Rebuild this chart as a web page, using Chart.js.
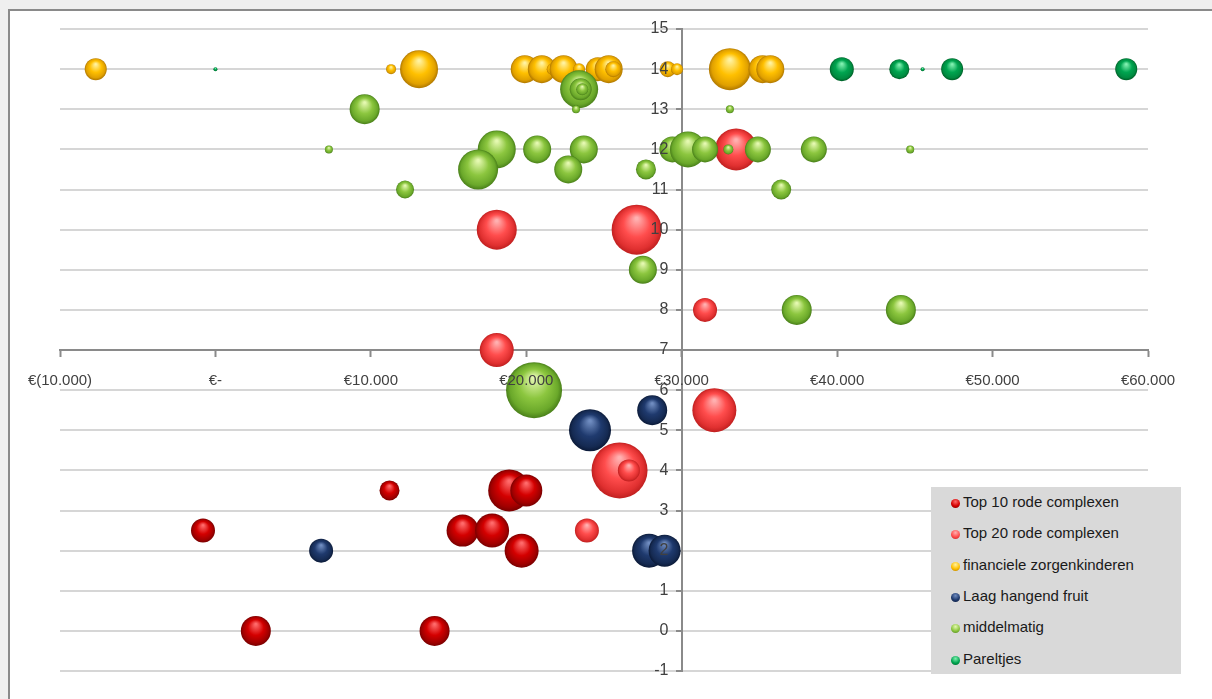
<!DOCTYPE html>
<html>
<head>
<meta charset="utf-8">
<script src="https://cdn.jsdelivr.net/npm/chart.js@4/dist/chart.umd.min.js"></script>
<style>
  html, body { margin: 0; padding: 0; background: #efefef; overflow: hidden; }
  #wrap  { position: relative; width: 1212px; height: 699px; }
  #frame { position: absolute; left: 8px; top: 9px; width: 1300px; height: 800px;
           background: #fff; border-left: 2px solid #8a8a8a; border-top: 2px solid #8a8a8a; }
  #chart { position: absolute; left: 0; top: 0; }
  #legend { position: absolute; left: 931px; top: 487px; width: 250px; height: 187px;
            background: #d9d9d9; font: 15px "Liberation Sans", Arial, sans-serif; color: #1a1a1a; }
  #legend .item { position: absolute; left: 20px; height: 20px; line-height: 20px; white-space: nowrap; }
  #legend .dot  { display: inline-block; width: 9px; height: 9px; border-radius: 50%;
                  vertical-align: -1px; margin-right: 3px; }
</style>
</head>
<body>
<div id="wrap">
  <div id="frame"></div>
  <canvas id="chart" width="1212" height="699"></canvas>
  <div id="legend"></div>
</div>
<script>
// [bedrag in €, categorie-score, bubbelstraal]
const top10 = [
  [-800, 2.5, 12], [11200, 3.5, 10], [15900, 2.5, 16], [17800, 2.5, 17],
  [18900, 3.5, 21], [20000, 3.5, 16], [19700, 2, 17], [2600, 0, 15], [14100, 0, 15],
];
const top20 = [
  [33500, 12, 21], [18100, 10, 20], [27100, 10, 25], [31500, 8, 12], [18100, 7, 17],
  [32100, 5.5, 22], [26000, 4, 28], [26600, 4, 11], [23900, 2.5, 12],
];
const zorgkinderen = [
  [-7700, 14, 11], [11300, 14, 5], [13100, 14, 19], [19900, 14, 14], [21000, 14, 14],
  [21700, 14, 6], [22400, 14, 14], [23400, 14, 6], [24600, 14, 12], [25300, 14, 14],
  [25600, 14, 8], [29100, 14, 8], [29700, 14, 6], [33100, 14, 21], [35200, 14, 14],
  [35700, 14, 14],
];
const laagFruit = [
  [6800, 2, 12], [24100, 5, 21], [28100, 5.5, 15], [27900, 2, 17], [28900, 2, 16],
];
const middelmatig = [
  [9600, 13, 15], [7300, 12, 4], [12200, 11, 9], [23400, 13.5, 19], [23500, 13.5, 11],
  [23600, 13.5, 6], [23200, 13, 4], [18100, 12, 19], [20700, 12, 14], [23700, 12, 14],
  [29400, 12, 13], [30400, 12, 18], [31500, 12, 13], [33000, 12, 5], [34900, 12, 13],
  [38500, 12, 13], [44700, 12, 4], [16900, 11.5, 20], [22700, 11.5, 14], [27700, 11.5, 10],
  [36400, 11, 10], [27500, 9, 14], [37400, 8, 15], [44100, 8, 15], [20500, 6, 28],
  [33100, 13, 4],
];
const pareltjes = [
  [0, 14, 2], [40300, 14, 12], [44000, 14, 10], [45500, 14, 2], [47400, 14, 11], [58600, 14, 11],
];

const seriesNames = [
  "Top 10 rode complexen", "Top 20 rode complexen", "financiele zorgenkinderen",
  "Laag hangend fruit", "middelmatig", "Pareltjes",
];
// highlight, base, shade, edge
const seriesColors = [
  ["#ff6a6a", "#d40000", "#a00000", "#7a0000"],
  ["#ffb0b0", "#ff4d4d", "#e03030", "#c02020"],
  ["#fff2a0", "#ffc000", "#e0a000", "#b07800"],
  ["#6f8cc0", "#1f3a6e", "#152a52", "#0b1a38"],
  ["#e4f8b0", "#8cc63f", "#6aa82a", "#4a801a"],
  ["#80f0b0", "#00a550", "#008a40", "#006028"],
];
const xMin = -10000, xMax = 60000, xStep = 10000;
const yMin = -1, yMax = 15, yStep = 1;
const xCross = 7, yCross = 30000;

function euro(v) {
  if (v === 0) return "€-";
  const s = Math.abs(v).toString().replace(/\B(?=(\d{3})+(?!\d))/g, ".");
  return v < 0 ? `€(${s})` : `€${s}`;
}

function sphere(cols) {
  return ctx => {
    const chart = ctx.chart, raw = ctx.raw;
    if (!chart.chartArea || !raw) return cols[1];
    const x = chart.scales.x.getPixelForValue(raw.x);
    const y = chart.scales.y.getPixelForValue(raw.y);
    const r = Math.max(raw.r, 1);
    const g = chart.ctx.createRadialGradient(x, y - r * 0.45, r * 0.05, x, y, r);
    g.addColorStop(0, cols[0]);
    g.addColorStop(0.5, cols[1]);
    g.addColorStop(0.85, cols[2]);
    g.addColorStop(1, cols[3]);
    return g;
  };
}

const allSeries = [top10, top20, zorgkinderen, laagFruit, middelmatig, pareltjes];

const datasets = allSeries.map((pts, i) => ({
  label: seriesNames[i],
  data: pts.map(p => ({ x: p[0], y: p[1], r: p[2] })),
  backgroundColor: sphere(seriesColors[i]),
  borderWidth: 0,
  order: allSeries.length - i,   // latere reeksen bovenop, zoals in Excel
}));

const tickFont = { family: "'Liberation Sans', Arial, sans-serif", size: 15 };

new Chart(document.getElementById("chart"), {
  type: "bubble",
  data: { datasets },
  options: {
    responsive: false,
    animation: false,
    events: [],
    layout: { padding: { left: 60, top: 29, right: 64, bottom: 16 } },
    plugins: { legend: { display: false }, tooltip: { enabled: false } },
    scales: {
      x: {
        type: "linear", min: xMin, max: xMax,
        position: { y: xCross },
        border: { color: "#8a8a8a", width: 2 },
        grid: { drawOnChartArea: false, drawTicks: true, tickLength: 6, tickColor: "#8a8a8a", tickWidth: 2 },
        // labels boven de bubbels, raster eronder (zoals in Excel)
        ticks: { z: 1, stepSize: xStep, color: "#404040", font: tickFont, padding: 16, callback: v => euro(v) },
      },
      y: {
        type: "linear", min: yMin, max: yMax,
        position: { x: yCross },
        border: { color: "#8a8a8a", width: 2 },
        grid: { color: "#d6d6d6", lineWidth: 2, tickLength: 5, tickColor: "#8a8a8a" },
        ticks: { z: 1, stepSize: yStep, color: "#404040", font: { ...tickFont, size: 16 }, callback: v => `${v}   ` },
      },
    },
  },
});

// legenda als HTML, zelfde volgorde als de reeksen
const legendEl = document.getElementById("legend");
legendEl.innerHTML = seriesNames.map((name, i) => {
  const c = seriesColors[i];
  return `<div class="item" style="top:${5 + i * 31.3}px">
    <span class="dot" style="background:radial-gradient(circle at 50% 30%, ${c[0]}, ${c[1]} 55%, ${c[3]})"></span>${name}
  </div>`;
}).join("");
</script>
</body>
</html>
